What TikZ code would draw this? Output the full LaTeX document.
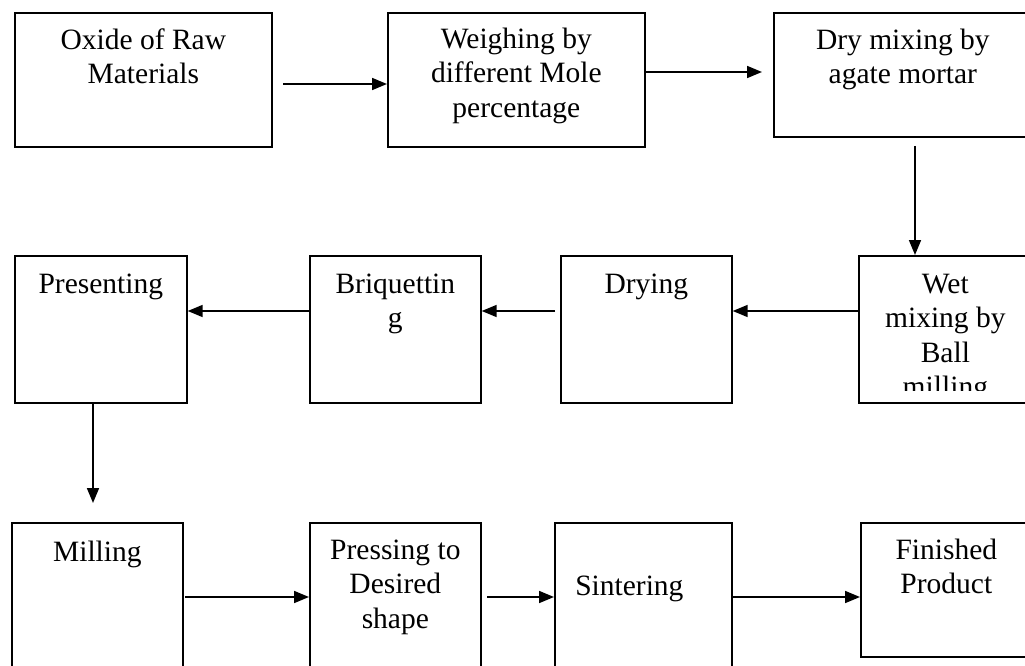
\documentclass[tikz,border=0pt]{standalone}
\usepackage{fontspec}
\setmainfont{Liberation Serif}
\usepackage{tikz}
\usetikzlibrary{arrows.meta,calc}

\begin{document}
\begin{tikzpicture}[x=1pt,y=-1pt,>={Triangle[length=15pt,width=12pt]},
    stepbox/.style={draw,line width=1.7pt,inner sep=0pt,anchor=north west},
    steptext/.style={font=\fontsize{29.5}{34.5}\selectfont,align=center,anchor=north,inner sep=0pt},
    flow/.style={->,line width=1.7pt}]

        % Page
        \useasboundingbox (0,0) rectangle (1025,666);
        \clip (0,0) rectangle (1025,666);

        % First row
        \node[stepbox,minimum width=257pt,minimum height=134pt] (oxide) at (14,12) {};
        \node[stepbox,minimum width=257pt,minimum height=134pt] (weigh) at (387,12) {};
        \node[stepbox,minimum width=258pt,minimum height=124pt] (drymix) at (773,12) {};

        \node[steptext] (oxide-t) at ($(oxide.north)+(0,13)$) {\strut Oxide of Raw\\Materials};
        \node[steptext] (weigh-t) at ($(weigh.north)+(0,12)$) {\strut Weighing by\\different Mole\\percentage};
        \node[steptext] (drymix-t) at ($(drymix.north)+(0,13)$) {\strut Dry mixing by\\agate mortar};

        % Second row
        \node[stepbox,minimum width=172pt,minimum height=147pt] (present) at (14,255) {};
        \node[stepbox,minimum width=171pt,minimum height=147pt] (briq) at (309,255) {};
        \node[stepbox,minimum width=171pt,minimum height=147pt] (drying) at (560,255) {};
        \node[stepbox,minimum width=173pt,minimum height=147pt] (wetmix) at (858,255) {};

        \node[steptext] (present-t) at ($(present.north)+(0,14)$) {\strut Presenting};
        \node[steptext] (briq-t) at ($(briq.north)+(0,14)$) {\strut Briquettin\\g};
        \node[steptext] (drying-t) at ($(drying.north)+(0,14)$) {\strut Drying};
        \begin{scope}
            \clip (858,255) rectangle (1031,390);
            \node[steptext] (wetmix-t) at ($(wetmix.north)+(0,14)$) {\strut Wet\\mixing by\\Ball\\milling};
        \end{scope}

        % Third row
        \node[stepbox,minimum width=171pt,minimum height=178pt] (milling) at (11,522) {};
        \node[stepbox,minimum width=171pt,minimum height=178pt] (press) at (309,522) {};
        \node[stepbox,minimum width=177pt,minimum height=178pt] (sinter) at (554,522) {};
        \node[stepbox,minimum width=171pt,minimum height=134pt] (finish) at (860,522) {};

        \node[steptext] (milling-t) at ($(milling.north)+(0,15)$) {\strut Milling};
        \node[steptext] (press-t) at ($(press.north)+(0,13)$) {\strut Pressing to\\Desired\\shape};
        \node[steptext] (sinter-t) at ($(sinter.north)+(-14,49)$) {\strut Sintering};
        \node[steptext] (finish-t) at ($(finish.north)+(0,13)$) {\strut Finished\\Product};

        % Connectors
        \coordinate (a1) at (283,84);
        \coordinate (a2) at (762,72);
        \coordinate (a3) at (915,146);
        \coordinate (row2) at (0,311);
        \coordinate (a5) at (555,311);
        \coordinate (a6) at (93,503);
        \coordinate (row3) at (0,597);
        \coordinate (a7) at (185,597);
        \coordinate (a8) at (487,597);

        \draw[flow] (a1) -- (a1 -| weigh.west);
        \draw[flow] (a2 -| weigh.east) -- (a2);
        \draw[flow] (a3) -- (a3 |- wetmix.north);
        \draw[flow] (wetmix.west |- row2) -- (drying.east |- row2);
        \draw[flow] (a5) -- (a5 -| briq.east);
        \draw[flow] (briq.west |- row2) -- (present.east |- row2);
        \draw[flow] (a6 |- present.south) -- (a6);
        \draw[flow] (a7) -- (a7 -| press.west);
        \draw[flow] (a8) -- (a8 -| sinter.west);
        \draw[flow] (sinter.east |- row3) -- (finish.west |- row3);

    \end{tikzpicture}
\end{document}
